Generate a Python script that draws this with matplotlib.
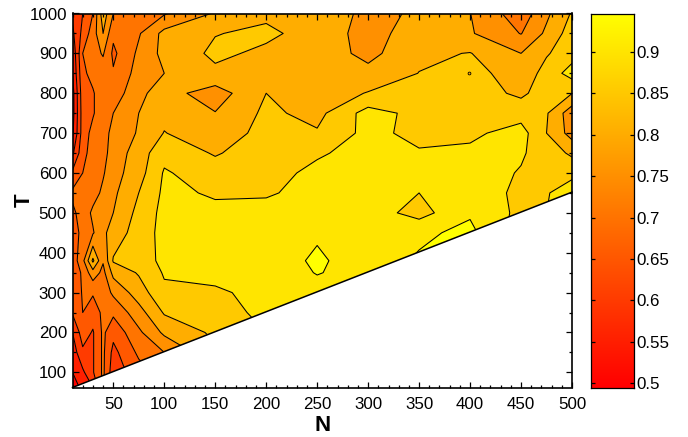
import numpy as np
import matplotlib
matplotlib.use("Agg")
import matplotlib.pyplot as plt
from matplotlib.patches import Polygon
from matplotlib.ticker import MultipleLocator, FixedLocator

plt.rcParams['font.family'] = ['Liberation Sans', 'DejaVu Sans']

N_values = [10, 20, 30, 40, 50, 75, 100, 150, 200, 250, 300, 350, 400, 450, 475, 500]
T_values = [1000, 950, 900, 850, 800, 750, 700, 650, 600, 550, 500, 450, 380, 350, 300, 250, 200, 150, 100, 62]

z_n10 = [.61, .59, .56, .55, .53, .53, .54, .59, .66, .71, .69, .675, .67, .66, .66, .655, .60, .57, .55, .53]
z_n20 = [.65, .665, .70, .69, .68, .675, .675, .685, .70, .71, .72, .715, .735, .71, .705, .70, .675, .64, .59, .56]
z_n30 = [.70, .725, .73, .715, .695, .695, .715, .72, .725, .73, .76, .745, .86, .78, .705, .675, .645, .645, .645, .60]
z_n40 = [.83, .80, .755, .725, .73, .73, .73, .735, .745, .76, .775, .79, .755, .735, .72, .71, .71, .71, .71, .71]
z_n50 = [.75, .71, .69, .705, .72, .75, .765, .77, .78, .79, .80, .82, .855, .815, .76, .71, .665, .635, .62, .62]
z_n75 = [.73, .745, .76, .77, .79, .80, .805, .825, .83, .85, .865, .875, .87, .855, .825, .78, .74, .71, .68, .67]
z_n100 = [.745, .815, .815, .80, .82, .835, .852, .885, .905, .91, .915, .915, .915, .905, .89, .855, .81, .75, .72, .71]
z_n150 = [.805, .848, .86, .84, .775, .802, .815, .845, .875, .895, .91, .915, .915, .91, .895, .875, .86, .84, .82, .80]
z_n200 = [.84, .86, .84, .835, .85, .86, .87, .88, .885, .895, .915, .92, .92, .915, .91, .915, .90, .87, .85, .84]
z_n250 = [.825, .83, .83, .83, .82, .835, .855, .895, .91, .915, .92, .935, .946, .942, .925, .92, .92, .92, .92, .92]
z_n300 = [.79, .78, .785, .815, .853, .92, .915, .915, .91, .92, .92, .925, .92, .925, .925, .925, .925, .925, .925, .925]
z_n350 = [.805, .825, .84, .851, .865, .885, .885, .905, .91, .90, .885, .932, .945, .94, .94, .94, .94, .94, .94, .94]
z_n400 = [.801, .805, .852, .875, .875, .875, .89, .91, .92, .925, .935, .95, .95, .95, .95, .95, .95, .95, .95, .95]
z_n450 = [.72, .748, .80, .815, .84, .88, .92, .905, .897, .89, .89, .88, .88, .88, .88, .88, .88, .88, .88, .88]
z_n475 = [.79, .81, .845, .87, .875, .855, .85, .88, .89, .897, .90, .90, .90, .90, .90, .90, .90, .90, .90, .90]
z_n500 = [.855, .875, .88, .92, .851, .77, .78, .84, .89, .92, .93, .93, .93, .93, .93, .93, .93, .93, .93, .93]

levels = [0.5, 0.55, 0.6, 0.65, 0.7, 0.75, 0.8, 0.85, 0.9, 0.94, 1.0]
cbar_ticks = [0.5, 0.55, 0.6, 0.65, 0.7, 0.75, 0.8, 0.85, 0.9]
cbar_labels = ['0.5', '0.55', '0.6', '0.65', '0.7', '0.75', '0.8', '0.85', '0.9']
z_min, z_max = 0.4946, 0.9465
edge_offset = 52
small_N, small_T = [399], [851]

Z = np.array([z_n10, z_n20, z_n30, z_n40, z_n50, z_n75, z_n100, z_n150, z_n200,
              z_n250, z_n300, z_n350, z_n400, z_n450, z_n475, z_n500]).T
N = np.array(N_values)
T = np.array(T_values)

W, H = 688, 437
fig = plt.figure(figsize=(W / 100, H / 100), dpi=100, facecolor='white')
ax = fig.add_axes([72.5 / W, 1 - 387.5 / H, 499.5 / W, 374 / H])
cax = fig.add_axes([590.5 / W, 1 - 387.5 / H, 43.5 / W, 374 / H])

cmap = plt.get_cmap('autumn')
colors = [cmap((min(l, z_max) - z_min) / (z_max - z_min)) for l in levels[:-1]]
colors[-1] = (1, 1, 0, 1)

cf = ax.contourf(N, T, Z, levels=levels, colors=colors, antialiased=True)
cl = ax.contour(N, T, Z, levels=levels[1:-1], colors='k', linewidths=0.75)

xmin, xmax = N.min(), N.max()
ymin, ymax = xmin + edge_offset, T.max()
clip = Polygon([(xmin, ymin), (xmax, xmax + edge_offset), (xmax, ymax), (xmin, ymax)],
               closed=True, transform=ax.transData, facecolor='none', edgecolor='none')
ax.add_patch(clip)
cf.set_clip_path(clip)
cl.set_clip_path(clip)
ax.plot([xmin, xmax], [xmin + edge_offset, xmax + edge_offset], color='k', lw=1.1, clip_on=False)
ax.plot(small_N, small_T, ls='none', marker='o', ms=2, mfc='#FFAA00', mec='k', mew=0.6)

ax.set_xlim(xmin, xmax)
ax.set_ylim(ymin, ymax)
ax.xaxis.set_major_locator(MultipleLocator(50))
ax.xaxis.set_minor_locator(MultipleLocator(10))
ax.yaxis.set_major_locator(MultipleLocator(100))
ax.yaxis.set_minor_locator(MultipleLocator(50))
ax.tick_params(which='major', direction='in', top=True, right=True, length=4, width=0.9,
               labelsize=12.2)
ax.tick_params(axis='x', which='major', pad=6.5)
ax.tick_params(axis='y', which='major', pad=4)
ax.tick_params(which='minor', direction='in', top=True, right=True, length=2, width=0.9)
for s in ax.spines.values():
    s.set_linewidth(1.2)
ax.set_xlabel('N', fontsize=16, fontweight='bold', labelpad=2.5)
ax.set_ylabel('T', fontsize=16, fontweight='bold', labelpad=-3.5)

grad = np.linspace(0, 1, 256).reshape(-1, 1)
cax.set_facecolor('red')
cax.imshow(grad, cmap='autumn', aspect='auto', origin='lower', extent=[0, 1, z_min, z_max])
cax.set_xticks([])
cax.yaxis.tick_right()
cax.yaxis.set_major_locator(FixedLocator(cbar_ticks))
cax.set_yticklabels(cbar_labels)
cax.set_ylim(z_min, z_max)
cax.tick_params(axis='y', direction='in', left=True, right=True, length=3, width=0.9,
                labelsize=12.2, pad=2)
for s in cax.spines.values():
    s.set_linewidth(0.9)

fig.savefig('out.png', dpi=100)
